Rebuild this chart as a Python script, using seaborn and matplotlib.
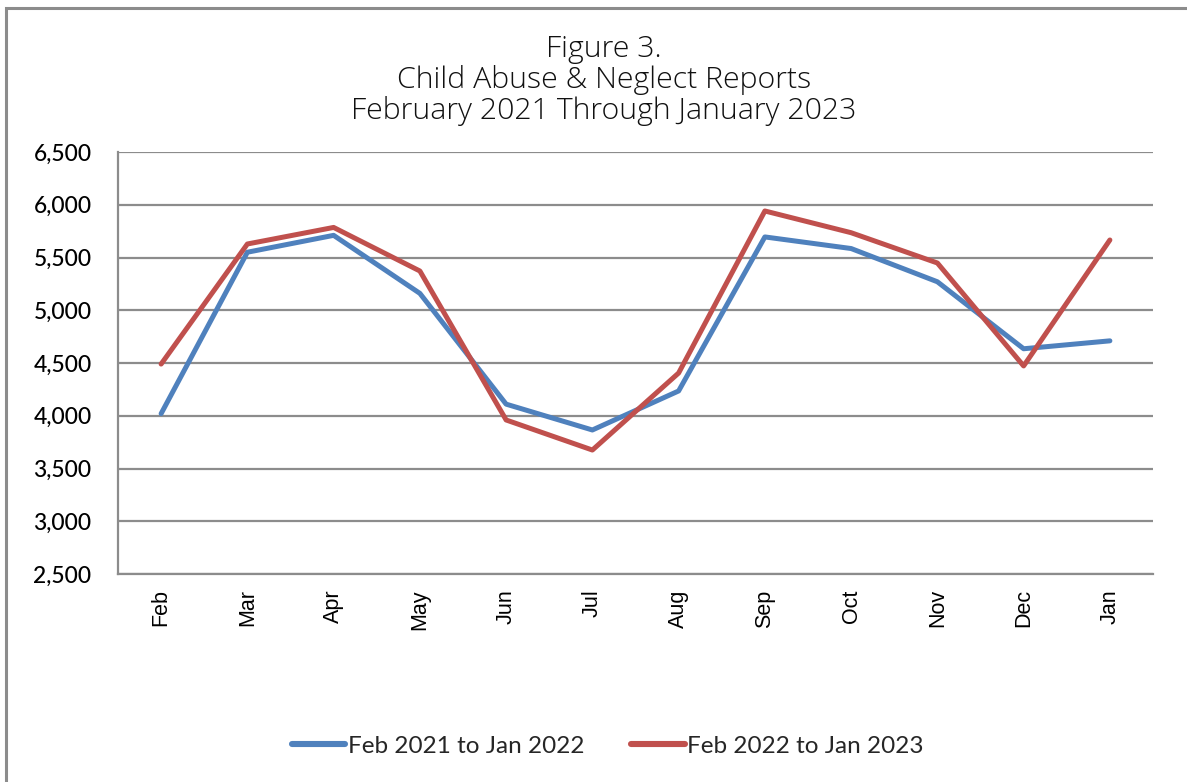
import matplotlib
matplotlib.use("Agg")
import matplotlib.pyplot as plt
import matplotlib.ticker as mticker
from matplotlib.patches import Rectangle
from matplotlib.lines import Line2D
import seaborn as sns
import pandas as pd

months = ["Feb", "Mar", "Apr", "May", "Jun", "Jul", "Aug", "Sep", "Oct", "Nov", "Dec", "Jan"]
series1_name = "Feb 2021 to Jan 2022"
series2_name = "Feb 2022 to Jan 2023"
series1 = [4020, 5550, 5710, 5160, 4110, 3865, 4235, 5695, 5585, 5270, 4635, 4710]
series2 = [4490, 5628, 5785, 5372, 3960, 3675, 4405, 5941, 5735, 5448, 4472, 5666]
y_ticks = [2500, 3000, 3500, 4000, 4500, 5000, 5500, 6000, 6500]

df = pd.DataFrame({
    "Month": months * 2,
    "Reports": series1 + series2,
    "Series": [series1_name] * len(months) + [series2_name] * len(months),
})

sns.set_theme(style="white")
plt.rcParams["font.family"] = ["Lato", "DejaVu Sans"]

fig = plt.figure(figsize=(11.87, 7.82), dpi=100)
ax = fig.add_axes([118 / 1187, 1 - 574 / 782, (1153 - 118) / 1187, (574 - 152) / 782])

sns.lineplot(data=df, x="Month", y="Reports", hue="Series", sort=False,
             palette={series1_name: "#4F81BD", series2_name: "#C0504D"},
             linewidth=3.6, ax=ax, legend=False)

ax.set_xlim(-0.5, len(months) - 0.5)
ax.set_ylim(y_ticks[0], y_ticks[-1])
ax.set_yticks(y_ticks)
ax.yaxis.set_major_formatter(mticker.FuncFormatter(lambda v, p: f"{int(v):,}"))
ax.grid(axis="y", color="#8c8c8c", linewidth=1.6)
ax.grid(axis="x", visible=False)
ax.set_axisbelow(True)
ax.set_xlabel("")
ax.set_ylabel("")
for s in ["top", "right"]:
    ax.spines[s].set_visible(False)
for s in ["left", "bottom"]:
    ax.spines[s].set_color("#8c8c8c")
    ax.spines[s].set_linewidth(1.6)
ax.tick_params(axis="both", length=0, colors="black")
ax.tick_params(axis="y", pad=19, labelsize=16.5)
ax.tick_params(axis="x", pad=11)
for lab in ax.get_yticklabels():
    lab.set_fontfamily(["Lato", "DejaVu Sans"])
    lab.set_fontweight("medium")
for lab in ax.get_xticklabels():
    lab.set_rotation(90)
    lab.set_fontfamily(["Liberation Sans", "DejaVu Sans"])
    lab.set_fontsize(15.5)

fig.text(604 / 1187, 1 - 80 / 782,
         "Figure 3.\nChild Abuse & Neglect Reports\nFebruary 2021 Through January 2023",
         ha="center", va="center", fontsize=21.8, fontweight="light",
         family=["Open Sans", "DejaVu Sans"], color="#111111", linespacing=1.05)

handles = [Line2D([], [], color="#4F81BD", linewidth=4.4, solid_capstyle="round"),
           Line2D([], [], color="#C0504D", linewidth=4.4, solid_capstyle="round")]
fig.legend(handles, [series1_name, series2_name], loc="center",
           bbox_to_anchor=(608 / 1187, 1 - 746 / 782), ncol=2, frameon=False,
           handlelength=2.2, handletextpad=0.12, columnspacing=1.9,
           prop={"family": ["Lato", "DejaVu Sans"], "size": 17.5})

fig.patches.append(Rectangle((6 / 1187, -0.05), 1.2, (1 - 8 / 782) + 0.05,
                             transform=fig.transFigure, fill=False,
                             edgecolor="#8c8c8c", linewidth=2.2))

fig.savefig("out.png", dpi=100)
